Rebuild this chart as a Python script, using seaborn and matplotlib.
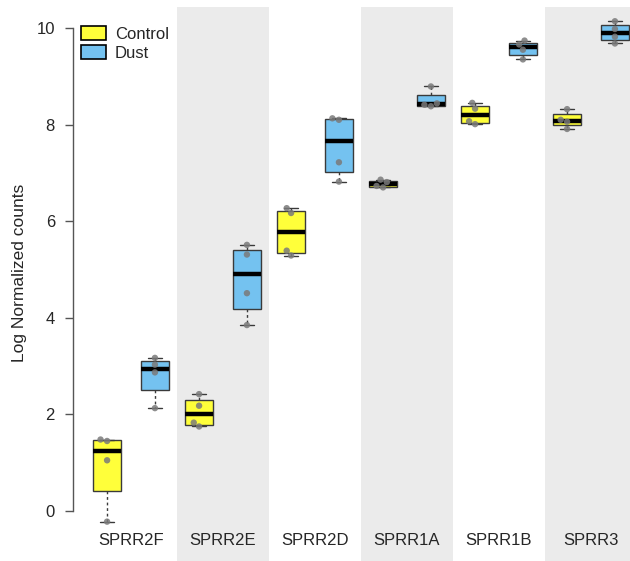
import numpy as np
import pandas as pd
import matplotlib
matplotlib.use("Agg")
import matplotlib.pyplot as plt
from matplotlib.patches import Patch
import seaborn as sns

# data (4 samples per box)
genes = ['SPRR2F', 'SPRR2E', 'SPRR2D', 'SPRR1A', 'SPRR1B', 'SPRR3']
groups = ['Control', 'Dust']
control = [
    [-0.22, 1.05, 1.45, 1.48],
    [1.75, 1.83, 2.18, 2.42],
    [5.29, 5.39, 6.17, 6.27],
    [6.70, 6.73, 6.81, 6.86],
    [8.01, 8.07, 8.33, 8.45],
    [7.91, 8.06, 8.10, 8.32],
]
dust = [
    [2.13, 2.87, 3.03, 3.17],
    [3.85, 4.51, 5.31, 5.51],
    [6.82, 7.22, 8.10, 8.13],
    [8.38, 8.41, 8.44, 8.79],
    [9.35, 9.55, 9.66, 9.74],
    [9.68, 9.82, 9.98, 10.14],
]
y_ticks = [0, 2, 4, 6, 8, 10]

colors = {'Control': '#FFFF3A', 'Dust': '#74C2F0'}
offset = {'Control': -0.26, 'Dust': 0.26}
box_w = 0.31


def r_boxstats(vals):
    """Tukey hinges like R's boxplot (fivenum)"""
    v = np.sort(np.asarray(vals, dtype=float))
    n = len(v)
    n4 = np.floor((n + 3) / 2) / 2
    d = np.array([1, n4, (n + 1) / 2, n + 1 - n4, n]) - 1
    fn = 0.5 * (v[np.floor(d).astype(int)] + v[np.ceil(d).astype(int)])
    q1, med, q3 = fn[1], fn[2], fn[3]
    iqr = q3 - q1
    return dict(med=med, q1=q1, q3=q3,
                whislo=v[v >= q1 - 1.5 * iqr].min(),
                whishi=v[v <= q3 + 1.5 * iqr].max(),
                fliers=[])


rows = []
for i, g in enumerate(genes):
    for grp, src in zip(groups, [control, dust]):
        for val in src[i]:
            rows.append(dict(gene=g, group=grp, value=val, xpos=i + offset[grp]))
df = pd.DataFrame(rows)

sns.set_theme(style='white')
plt.rcParams['font.family'] = ['Liberation Sans', 'DejaVu Sans']

fig = plt.figure(figsize=(6.3, 5.61), dpi=100)
ax = fig.add_axes([85 / 630, 0, 545 / 630, 554 / 561])

# alternating grey bands
for i in range(len(genes)):
    if i % 2 == 1:
        ax.axvspan(i - 0.5, i + 0.5, color='#EBEBEB', lw=0, zorder=0)

edge = '#3A3A3A'
for grp, src in zip(groups, [control, dust]):
    stats = [r_boxstats(v) for v in src]
    pos = [i + offset[grp] for i in range(len(genes))]
    bp = ax.bxp(stats, positions=pos, widths=box_w, patch_artist=True,
                showfliers=False, manage_ticks=False, capwidths=box_w * 0.5,
                boxprops=dict(facecolor=colors[grp], edgecolor=edge, linewidth=1.0),
                medianprops=dict(color='black', linewidth=3.2, solid_capstyle='butt'),
                whiskerprops=dict(color=edge, linewidth=1.0, linestyle=(0, (2, 2))),
                capprops=dict(color=edge, linewidth=1.0))
    for b in bp['boxes']:
        b.set_zorder(2)

sns.swarmplot(data=df, x='xpos', y='value', hue='group', native_scale=True,
              orient='x', palette={'Control': '#7A7A7A', 'Dust': '#7A7A7A'},
              size=4.6, alpha=0.85, linewidth=0, legend=False, ax=ax, zorder=5)

ax.set_xlim(-0.5, -0.5 + 545 / 92)
ax.set_ylim(-1.035, 10.435)
ax.set_facecolor('white')

for s in ['top', 'right', 'bottom']:
    ax.spines[s].set_visible(False)
ax.spines['left'].set_bounds(0, 10)
ax.spines['left'].set_position(('outward', 8.6))
ax.spines['left'].set_color('#555555')
ax.spines['left'].set_linewidth(1.0)

ax.set_yticks(y_ticks)
ax.tick_params(axis='y', length=6, width=1.0, color='#555555', pad=7,
               labelsize=12, left=True, direction='out')
ax.set_xticks(range(len(genes)))
ax.set_xticklabels(genes)
ax.tick_params(axis='x', length=0, pad=-20, labelsize=12)
ax.set_xlabel('')
ax.set_ylabel('Log Normalized counts', fontsize=12.5)
ax.yaxis.set_label_coords(-0.106, 0.52)

handles = [Patch(facecolor=colors[g], edgecolor='black', linewidth=1.2) for g in groups]
ax.legend(handles, groups, loc='upper left', bbox_to_anchor=(-0.008, 0.965),
          frameon=False, fontsize=12, handlelength=1.55, handleheight=0.9,
          handletextpad=0.5, labelspacing=0.2, borderpad=0, borderaxespad=0)

fig.savefig('out.png', dpi=100)
